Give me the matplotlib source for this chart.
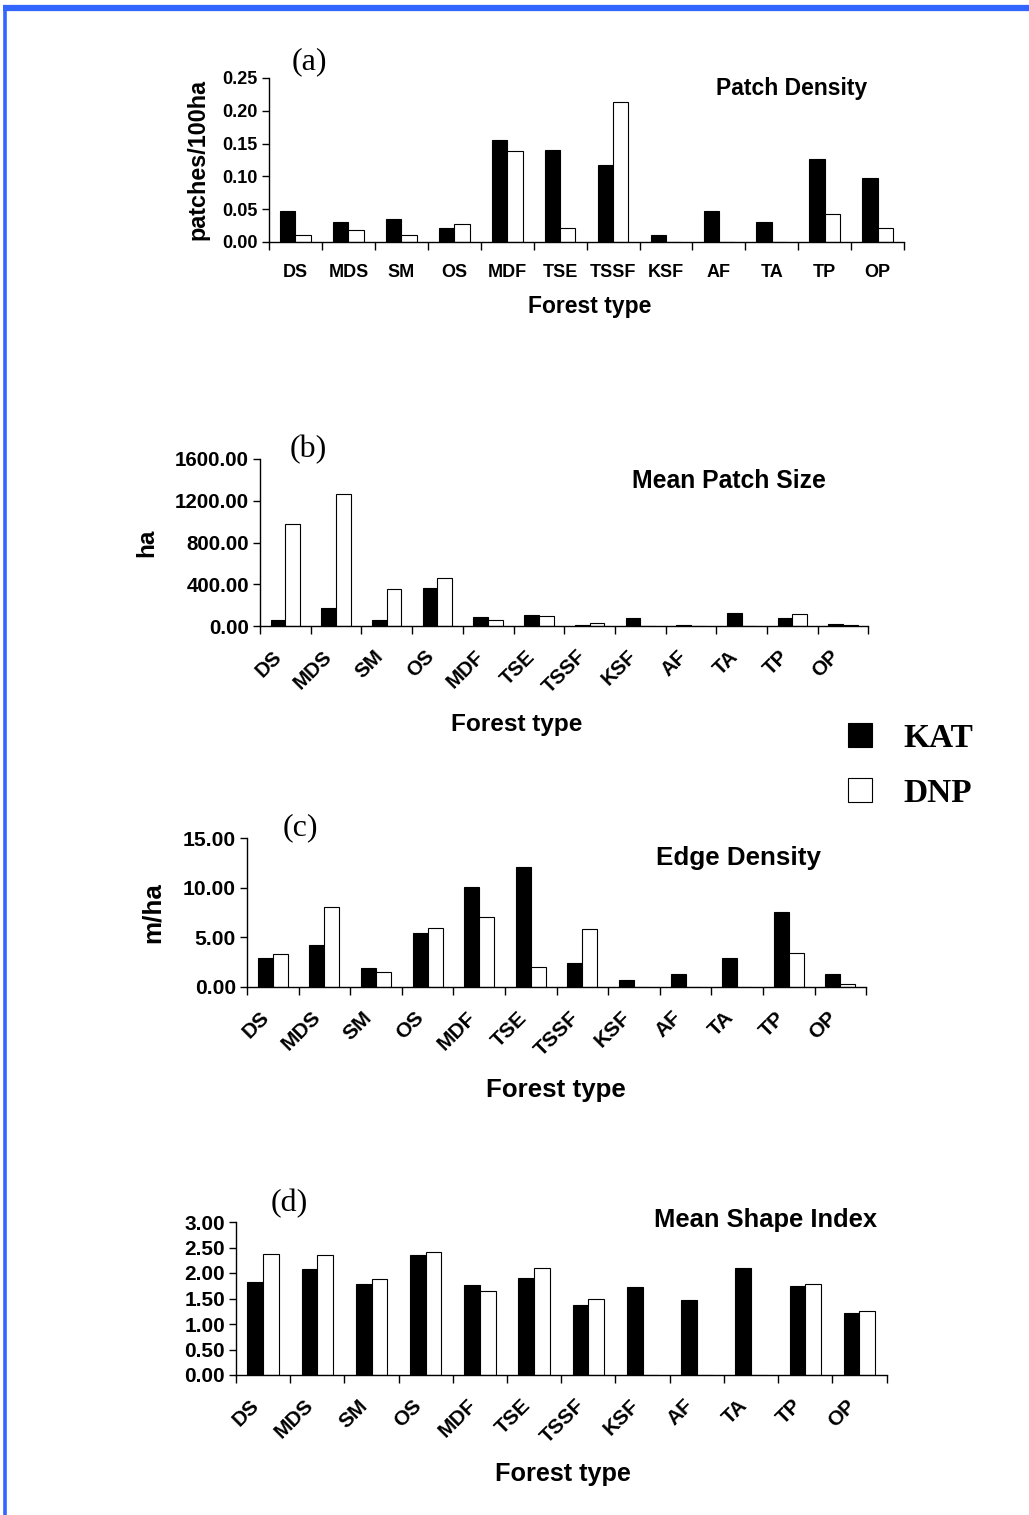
import numpy as np
import matplotlib
matplotlib.use("Agg")
import matplotlib.pyplot as plt
from matplotlib.lines import Line2D

plt.rcParams['font.family'] = ['Liberation Sans', 'DejaVu Sans']
plt.rcParams['font.weight'] = 'bold'

# 森林类型
forest_types = ["DS", "MDS", "SM", "OS", "MDF", "TSE", "TSSF", "KSF", "AF", "TA", "TP", "OP"]

# (a) Patch Density
pd_kat = [0.048, 0.030, 0.035, 0.021, 0.155, 0.140, 0.118, 0.010, 0.048, 0.030, 0.126, 0.097]
pd_dnp = [0.011, 0.018, 0.010, 0.028, 0.139, 0.021, 0.213, 0.0, 0.0, 0.0, 0.043, 0.021]

# (b) Mean Patch Size
mps_kat = [62, 172, 62, 362, 86, 102, 14, 77, 12, 125, 77, 15]
mps_dnp = [978, 1261, 358, 461, 61, 96, 28, 0, 0, 0, 118, 12]

# (c) Edge Density
ed_kat = [2.95, 4.18, 1.90, 5.42, 10.10, 12.10, 2.44, 0.67, 1.27, 2.90, 7.60, 1.27]
ed_dnp = [3.28, 8.03, 1.50, 5.93, 7.03, 2.00, 5.79, 0.0, 0.0, 0.0, 3.41, 0.27]

# (d) Mean Shape Index
msi_kat = [1.82, 2.08, 1.79, 2.36, 1.76, 1.91, 1.38, 1.72, 1.48, 2.10, 1.74, 1.22]
msi_dnp = [2.38, 2.36, 1.88, 2.42, 1.64, 2.09, 1.50, 0.0, 0.0, 0.0, 1.79, 1.26]

W, H = 1029, 1515
fig = plt.figure(figsize=(W / 100, H / 100), dpi=100)

# 每个子图: 数据, 像素位置(左, 上, 下, 类宽, 右端), 标题, 字号
panels = [
    dict(kat=pd_kat, dnp=pd_dnp, ymax=0.25, step=0.05, left=269, top=78, bottom=242,
         cw=53.6, xend=11.35, title="Patch Density", tx=792, ty=89, tag="(a)", gx=309, gy=62,
         ylabel="patches/100ha", yx=198, xl_y=306, xl_x=590, rot=False,
         fs_tick=13, fs_title=16.5, fs_xl=16.5, fs_yl=16.8),
    dict(kat=mps_kat, dnp=mps_dnp, ymax=1600, step=400, left=260, top=459, bottom=626,
         cw=50.7, xend=11.5, title="Mean Patch Size", tx=729, ty=481, tag="(b)", gx=308, gy=450,
         ylabel="ha", yx=147, xl_y=724, xl_x=517, rot=True,
         fs_tick=14.8, fs_title=17.8, fs_xl=17.6, fs_yl=17.5),
    dict(kat=ed_kat, dnp=ed_dnp, ymax=15, step=5, left=247, top=838, bottom=987,
         cw=51.6, xend=11.5, title="Edge Density", tx=739, ty=858, tag="(c)", gx=300, gy=828,
         ylabel="m/ha", yx=153, xl_y=1090, xl_x=556, rot=True,
         fs_tick=15.2, fs_title=18.7, fs_xl=18.6, fs_yl=18.8),
    dict(kat=msi_kat, dnp=msi_dnp, ymax=3.0, step=0.5, left=236, top=1222, bottom=1375,
         cw=54.9, xend=11.35, title="Mean Shape Index", tx=766, ty=1220, tag="(d)", gx=289, gy=1204,
         ylabel=None, yx=None, xl_y=1474, xl_x=563, rot=True,
         fs_tick=15, fs_title=18.4, fs_xl=18.2, fs_yl=18),
]

x = np.arange(len(forest_types))
bw = 0.29
handles = None
for p in panels:
    width_px = p['cw'] * (p['xend'] + 0.5)
    ax = fig.add_axes([p['left'] / W, 1 - p['bottom'] / H, width_px / W, (p['bottom'] - p['top']) / H])
    b1 = ax.bar(x - bw / 2, p['kat'], bw, color='black', edgecolor='black', linewidth=0.8, label='KAT')
    b2 = ax.bar(x + bw / 2, p['dnp'], bw, color='white', edgecolor='black', linewidth=0.8, label='DNP')
    if handles is None:
        handles = [b1, b2]
    ax.set_xlim(-0.5, p['xend'])
    ax.set_ylim(0, p['ymax'])
    ax.set_yticks(np.arange(0, p['ymax'] + p['step'] / 2, p['step']))
    ax.yaxis.set_major_formatter(matplotlib.ticker.FormatStrFormatter('%.2f'))
    ax.set_xticks(np.arange(-0.5, 11.6, 1.0))
    ax.set_xticklabels([])
    ax.set_xticks(x, minor=True)
    if p['rot']:
        ax.set_xticklabels(forest_types, minor=True, rotation=45, ha='right', va='top', fontsize=p['fs_tick'])
        ax.tick_params(axis='x', which='minor', length=0, pad=15)
    else:
        ax.set_xticklabels(forest_types, minor=True, fontsize=p['fs_tick'])
        ax.tick_params(axis='x', which='minor', length=0, pad=16)
    ax.tick_params(axis='x', which='major', direction='out', length=6, width=1)
    ax.tick_params(axis='y', direction='out', length=5, width=1, labelsize=p['fs_tick'], pad=3)
    for s in ['top', 'right']:
        ax.spines[s].set_visible(False)
    for s in ['left', 'bottom']:
        ax.spines[s].set_linewidth(1)
    ax.set_facecolor('none')

    fig.text(p['tx'] / W, 1 - p['ty'] / H, p['title'], ha='center', va='center',
             fontsize=p['fs_title'], fontweight='bold')
    fig.text(p['gx'] / W, 1 - p['gy'] / H, p['tag'], ha='center', va='center', fontsize=23,
             family='Liberation Serif', fontweight='normal')
    fig.text(p['xl_x'] / W, 1 - p['xl_y'] / H, "Forest type", ha='center', va='center',
             fontsize=p['fs_xl'], fontweight='bold')
    if p['ylabel']:
        fig.text(p['yx'] / W, 1 - (p['top'] + p['bottom']) / 2 / H, p['ylabel'], rotation=90,
                 ha='center', va='center', fontsize=p['fs_yl'], fontweight='bold')

# 图例
fig.legend(handles, ['KAT', 'DNP'], loc='upper left', bbox_to_anchor=(848 / W, 1 - 723 / H),
           frameon=False, prop=dict(family='Liberation Serif', weight='bold', size=24),
           handlelength=0.72, handleheight=0.72, labelspacing=0.72, handletextpad=0.93,
           borderpad=0, borderaxespad=0)

# 蓝色边框
fig.add_artist(Line2D([3 / W, 1], [1 - 8 / H, 1 - 8 / H], color='#3366ff', linewidth=4.5,
                      transform=fig.transFigure, solid_capstyle='butt'))
fig.add_artist(Line2D([4.5 / W, 4.5 / W], [0, 1 - 5 / H], color='#3366ff', linewidth=2.6,
                      transform=fig.transFigure, solid_capstyle='butt'))

fig.savefig("out.png", dpi=100)
